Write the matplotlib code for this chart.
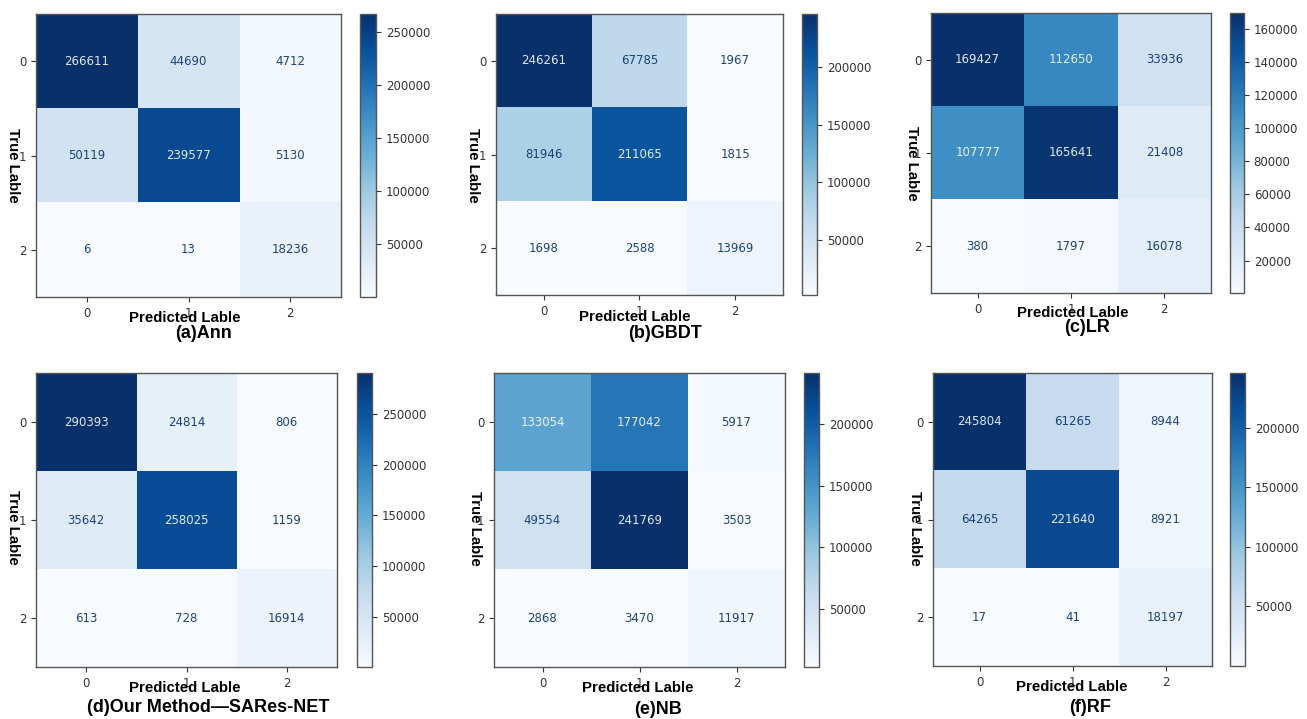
import matplotlib
matplotlib.use("Agg")
import matplotlib.pyplot as plt
import numpy as np

W, H = 1307, 719

classes = ["0", "1", "2"]
titles = ["(a)Ann", "(b)GBDT", "(c)LR", "(d)Our Method\u2014SARes-NET", "(e)NB", "(f)RF"]

cm_ann = [[266611, 44690, 4712], [50119, 239577, 5130], [6, 13, 18236]]
cm_gbdt = [[246261, 67785, 1967], [81946, 211065, 1815], [1698, 2588, 13969]]
cm_lr = [[169427, 112650, 33936], [107777, 165641, 21408], [380, 1797, 16078]]
cm_sares = [[290393, 24814, 806], [35642, 258025, 1159], [613, 728, 16914]]
cm_nb = [[133054, 177042, 5917], [49554, 241769, 3503], [2868, 3470, 11917]]
cm_rf = [[245804, 61265, 8944], [64265, 221640, 8921], [17, 41, 18197]]
matrices = [cm_ann, cm_gbdt, cm_lr, cm_sares, cm_nb, cm_rf]

cbar_ticks = [
    [50000, 100000, 150000, 200000, 250000],
    [50000, 100000, 150000, 200000],
    [20000, 40000, 60000, 80000, 100000, 120000, 140000, 160000],
    [50000, 100000, 150000, 200000, 250000],
    [50000, 100000, 150000, 200000],
    [50000, 100000, 150000, 200000],
]

# layout in pixels: heatmap (l, t, r, b), colorbar (l, r), xlabel (x, y), caption (x, y), ylabel (x, y)
layout = [
    dict(hm=(36, 14, 341, 297), cb=(360, 376), xl=(185, 318), cap=(203, 334), yl=(13, 165)),
    dict(hm=(496, 14, 783, 295), cb=(802, 817), xl=(635, 317), cap=(665, 333), yl=(473, 165)),
    dict(hm=(931, 13, 1211, 293), cb=(1230, 1244), xl=(1073, 313), cap=(1087, 328), yl=(912, 163)),
    dict(hm=(36, 373, 337, 667), cb=(357, 372), xl=(185, 688), cap=(208, 708), yl=(13, 527)),
    dict(hm=(494, 373, 785, 667), cb=(804, 819), xl=(638, 688), cap=(658, 710), yl=(475, 528)),
    dict(hm=(933, 373, 1212, 666), cb=(1230, 1245), xl=(1072, 687), cap=(1090, 707), yl=(915, 528)),
]


def rect(l, t, r, b):
    return [l / W, 1 - b / H, (r - l) / W, (b - t) / H]


fig = plt.figure(figsize=(W / 100, H / 100), dpi=100)
cmap = plt.get_cmap("Blues")
bold = dict(family=["Liberation Sans", "DejaVu Sans"], weight="bold", color="black")
spine_col = "#555555"

for cm, title, ticks, lay in zip(matrices, titles, cbar_ticks, layout):
    cm = np.array(cm)
    l, t, r, b = lay["hm"]
    ax = fig.add_axes(rect(l, t, r, b))
    im = ax.imshow(cm, cmap=cmap, aspect="auto", interpolation="nearest",
                   vmin=cm.min(), vmax=cm.max())
    thresh = (cm.max() + cm.min()) / 2.0
    for i in range(3):
        for j in range(3):
            col = cmap(0.0) if cm[i, j] >= thresh else cmap(1.0)
            ax.text(j, i, f"{cm[i, j]}", ha="center", va="center", color=col,
                    fontsize=8.5, alpha=0.9)
    ax.set_xticks(range(3))
    ax.set_yticks(range(3))
    ax.set_xticklabels(classes)
    ax.set_yticklabels(classes)
    ax.tick_params(labelsize=8.5, colors="#333333", length=3.5, width=0.8)
    for s in ax.spines.values():
        s.set_color(spine_col)
        s.set_linewidth(1.0)

    cl, cr = lay["cb"]
    cax = fig.add_axes(rect(cl, t, cr, b))
    cb = fig.colorbar(im, cax=cax)
    cb.set_ticks(ticks)
    cb.set_ticklabels([str(v) for v in ticks])
    cax.tick_params(labelsize=8.5, colors="#333333", length=3.5, width=0.8)
    cb.outline.set_edgecolor(spine_col)
    cb.outline.set_linewidth(1.0)

    x, y = lay["xl"]
    fig.text(x / W, 1 - y / H, "Predicted Lable", ha="center", va="center",
             fontsize=10.8, **bold)
    x, y = lay["cap"]
    fig.text(x / W, 1 - y / H, title, ha="center", va="center", fontsize=13, **bold)
    x, y = lay["yl"]
    fig.text(x / W, 1 - y / H, "True Lable", ha="center", va="center",
             rotation=270, fontsize=10.8, **bold)

fig.savefig("out.png", dpi=100)
